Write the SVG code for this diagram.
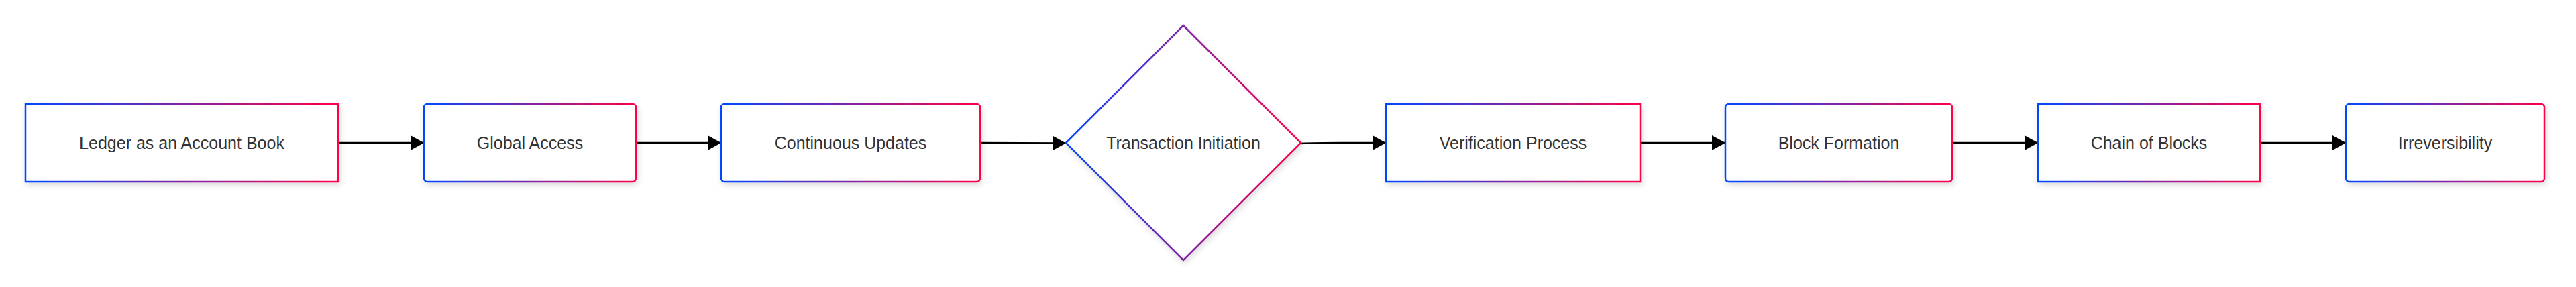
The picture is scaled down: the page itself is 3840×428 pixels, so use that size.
<svg xmlns="http://www.w3.org/2000/svg" width="3840" height="428" viewBox="0 0 3840 428">
<style>
.node{fill:#ffffff;stroke:url(#grad);stroke-width:2.5;filter:url(#shadow)}
.label{font-family:"Liberation Sans",Arial,Helvetica,sans-serif;font-size:25px;fill:#333333;text-anchor:middle}
.edge{fill:none;stroke:#000000;stroke-width:2.5;marker-end:url(#arrow)}
</style>
<defs>
<linearGradient id="grad" x1="0" y1="0" x2="1" y2="0">
<stop offset="0" stop-color="#0047ff"/>
<stop offset="1" stop-color="#ff0048"/>
</linearGradient>
<filter id="shadow" x="-10%" y="-20%" width="120%" height="150%">
<feDropShadow dx="2" dy="4" stdDeviation="4" flood-color="#000000" flood-opacity="0.14"/>
</filter>
<marker id="arrow" markerUnits="userSpaceOnUse" markerWidth="20" markerHeight="22" viewBox="0 0 20 22" refX="20" refY="11" orient="auto">
<path d="M0,0 L20,11 L0,22 Z" fill="#000000"/>
</marker>
</defs>
<rect width="3840" height="428" fill="#ffffff"/>
<g id="connectors">
<path class="edge" d="M504,213 L632,213"/>
<path class="edge" d="M948,213 L1075,213"/>
<path class="edge" d="M1461,213 L1589,213.5"/>
<path class="edge" d="M1939,214 Q1960,213 2000,213 L2066,213"/>
<path class="edge" d="M2445,213 L2572,213"/>
<path class="edge" d="M2910,213 L3038,213"/>
<path class="edge" d="M3369,213 L3497,213"/>
</g>
<g id="node-ledger">
<rect class="node" x="38" y="155" width="466" height="116"/>
<text class="label" x="271" y="222">Ledger as an Account Book</text>
</g>
<g id="node-global">
<rect class="node" x="632" y="155" width="316" height="116" rx="5" ry="5"/>
<text class="label" x="790" y="222">Global Access</text>
</g>
<g id="node-continuous">
<rect class="node" x="1075" y="155" width="386" height="116" rx="5" ry="5"/>
<text class="label" x="1268" y="222">Continuous Updates</text>
</g>
<g id="node-transaction">
<polygon class="node" points="1764,38 1939,213 1764,388 1589,213"/>
<text class="label" x="1764" y="222">Transaction Initiation</text>
</g>
<g id="node-verification">
<rect class="node" x="2066" y="155" width="379" height="116"/>
<text class="label" x="2255.5" y="222">Verification Process</text>
</g>
<g id="node-block">
<rect class="node" x="2572" y="155" width="338" height="116" rx="5" ry="5"/>
<text class="label" x="2741" y="222">Block Formation</text>
</g>
<g id="node-chain">
<rect class="node" x="3038" y="155" width="331" height="116"/>
<text class="label" x="3203.5" y="222">Chain of Blocks</text>
</g>
<g id="node-irreversibility">
<rect class="node" x="3497" y="155" width="296" height="116" rx="5" ry="5"/>
<text class="label" x="3645" y="222">Irreversibility</text>
</g>
</svg>
